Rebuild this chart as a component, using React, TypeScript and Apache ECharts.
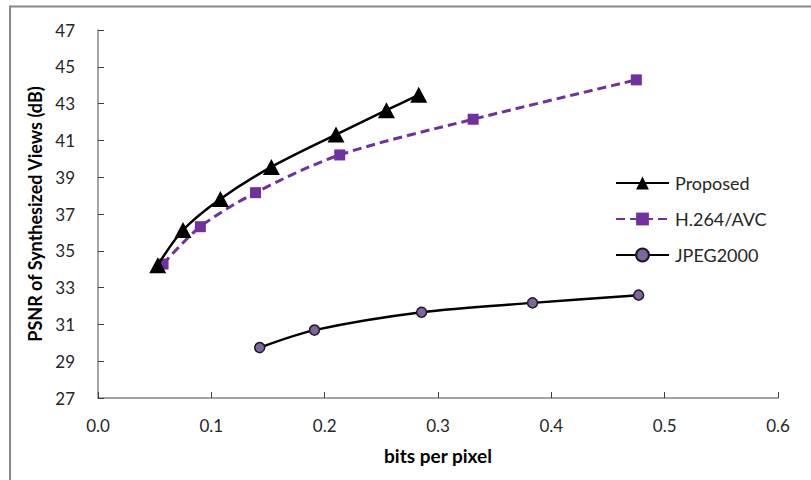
import React, { useEffect, useRef } from "react";
import * as echarts from "echarts";

const proposedX = [0.0527, 0.075, 0.108, 0.153, 0.21, 0.2545, 0.283];
const proposedY = [34.22, 36.13, 37.82, 39.56, 41.32, 42.64, 43.48];

const h264X = [0.0574, 0.0903, 0.139, 0.2133, 0.331, 0.475];
const h264Y = [34.28, 36.31, 38.16, 40.21, 42.15, 44.29];

const jpegX = [0.1427, 0.191, 0.2855, 0.3834, 0.477];
const jpegY = [29.74, 30.69, 31.66, 32.17, 32.59];

const seriesNames = ["Proposed", "H.264/AVC", "JPEG2000"];
const xAxisTitle = "bits per pixel";
const yAxisTitle = "PSNR of Synthesized Views (dB)";

const pairs = (xs: number[], ys: number[]) => xs.map((x, i) => [x, ys[i]]);

export default function App() {
  const ref = useRef<HTMLDivElement>(null);
  useEffect(() => {
    if (!ref.current) return;
    const chart = echarts.init(ref.current, null, { renderer: "svg" });
    const font = "Lato, 'Open Sans', sans-serif";
    const axisColor = "#868686";
    chart.setOption({
      animation: false,
      backgroundColor: "#ffffff",
      textStyle: { fontFamily: font },
      graphic: [
        {
          type: "rect",
          shape: { x: 10, y: 6.5, width: 1000, height: 1000 },
          style: { fill: "none", stroke: "#888888", lineWidth: 2 },
          silent: true,
        },
      ],
      grid: { left: 98, right: 33, top: 30, bottom: 82, containLabel: false },
      legend: {
        orient: "vertical",
        left: 615,
        top: 174,
        padding: 0,
        itemWidth: 53,
        itemHeight: 16,
        itemGap: 18,
        textStyle: { fontFamily: font, fontSize: 18, color: "#262626", padding: [0, 0, 0, 1] },
        data: seriesNames,
      },
      xAxis: {
        type: "value",
        min: 0,
        max: 0.6,
        interval: 0.1,
        name: xAxisTitle,
        nameLocation: "middle",
        nameGap: 48,
        nameTextStyle: { fontFamily: font, fontSize: 19, fontWeight: "bold", color: "#000" },
        axisLine: { show: true, lineStyle: { color: axisColor, width: 1.5 } },
        axisTick: { show: true, inside: true, length: 6, lineStyle: { color: "#404040", width: 1 } },
        axisLabel: {
          fontFamily: font,
          fontSize: 17,
          color: "#262626",
          margin: 19,
          formatter: (v: number) => v.toFixed(1),
        },
        splitLine: { show: false },
      },
      yAxis: {
        type: "value",
        min: 27,
        max: 47,
        interval: 2,
        name: yAxisTitle,
        nameLocation: "middle",
        nameGap: 50,
        nameRotate: 90,
        nameTextStyle: { fontFamily: font, fontSize: 18, fontWeight: "bold", color: "#000" },
        axisLine: { show: true, lineStyle: { color: axisColor, width: 1.5 } },
        axisTick: { show: true, inside: true, length: 6, lineStyle: { color: "#404040", width: 1 } },
        axisLabel: { fontFamily: font, fontSize: 17, color: "#262626", margin: 23 },
        splitLine: { show: false },
      },
      series: [
        {
          name: seriesNames[0],
          type: "line",
          smooth: 0.3,
          data: pairs(proposedX, proposedY),
          symbol: "triangle",
          symbolSize: [17, 16],
          itemStyle: { color: "#000000" },
          lineStyle: { color: "#000000", width: 2.5 },
          z: 3,
        },
        {
          name: seriesNames[1],
          type: "line",
          smooth: 0.3,
          data: pairs(h264X, h264Y),
          symbol: "rect",
          symbolSize: 11,
          itemStyle: { color: "#7030A0" },
          lineStyle: { color: "#7030A0", width: 3, type: [9, 5] },
          z: 2,
        },
        {
          name: seriesNames[2],
          type: "line",
          smooth: 0.3,
          data: pairs(jpegX, jpegY),
          symbol: "circle",
          symbolSize: 10,
          itemStyle: { color: "#8064A2", borderColor: "#1a1a1a", borderWidth: 1.5 },
          lineStyle: { color: "#000000", width: 2.5 },
          z: 2,
        },
      ],
    });
    return () => chart.dispose();
  }, []);
  return (
    <div
      ref={ref}
      style={{ position: "fixed", left: 0, top: 0, width: 811, height: 480, background: "#fff" }}
    />
  );
}
